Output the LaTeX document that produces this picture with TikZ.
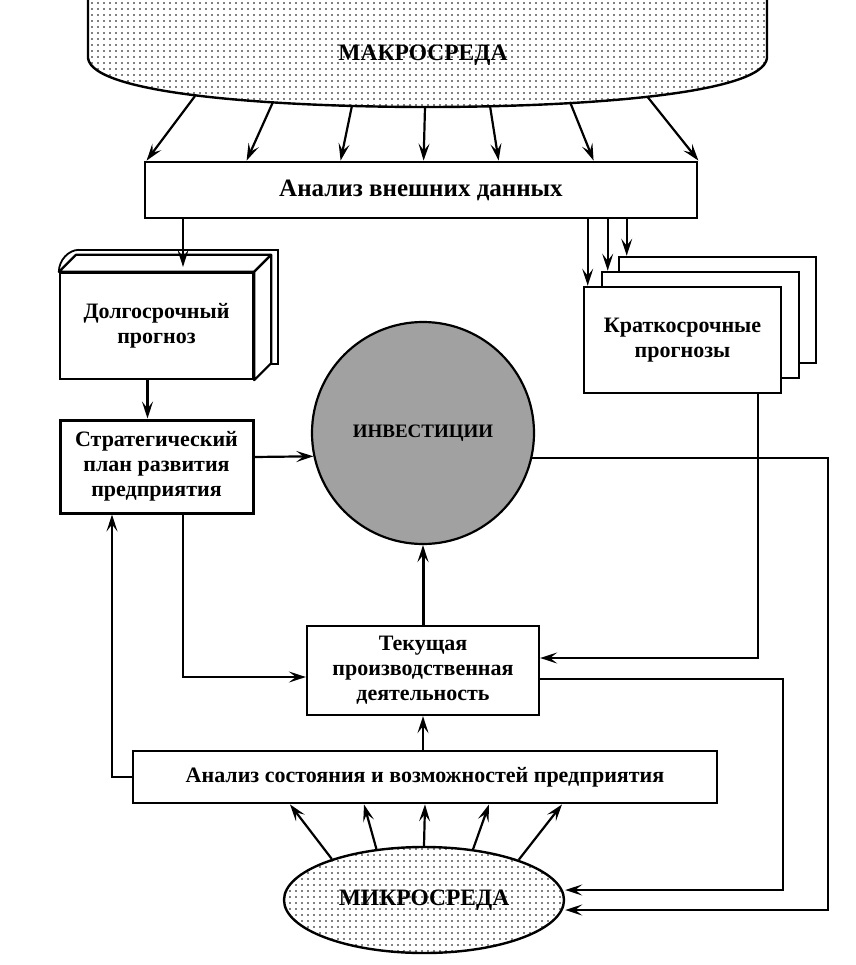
\documentclass[tikz,border=0pt]{standalone}
\usepackage{fontspec}
\setmainfont{Liberation Serif}
\usetikzlibrary{arrows.meta,patterns,shapes.geometric,calc}
\pgfdeclarepatternformonly{bigdots}{\pgfpoint{-1pt}{-1pt}}{\pgfpoint{6pt}{6pt}}{\pgfpoint{6pt}{6pt}}{\pgfpathcircle{\pgfpoint{2pt}{2pt}}{0.9pt}\pgfusepath{fill}}
\tikzset{
  box/.style={draw, line width=2.3pt, fill=white, align=center, inner sep=0pt,
    font=\bfseries\fontsize{22}{25}\selectfont},
  arr/.style={line width=2.2pt, -{Stealth[length=17pt,width=11pt,inset=7pt]}},
  ln/.style={line width=2.2pt},
  bigtxt/.style={font=\bfseries\fontsize{23.5}{27}\selectfont},
}
\begin{document}
\begin{tikzpicture}[x=1pt,y=-1pt]
\useasboundingbox (0,0) rectangle (855,965);
% ---- macro environment
\fill[pattern=bigdots] (88,-5) -- (88,58) .. controls (92,95) and (280,107) .. (427.5,107)
  .. controls (575,107) and (763,95) .. (767,58) -- (767,-5) -- cycle;
\draw[line width=2.4pt] (88,-5) -- (88,58) .. controls (92,95) and (280,107) .. (427.5,107)
  .. controls (575,107) and (763,95) .. (767,58) -- (767,-5);
\node[bigtxt] (macro) at (423,55) {МАКРОСРЕДА};
\coordinate (m1) at (195,96);
\coordinate (m2) at (273,102);
\coordinate (m3) at (352,105.5);
\coordinate (m4) at (425,107);
\coordinate (m5) at (490,106);
\coordinate (m6) at (570,102);
\coordinate (m7) at (648,97.5);
% ---- external analysis
\node[box, line width=2.8pt, minimum width=552, minimum height=56,
  font=\bfseries\fontsize{25}{29}\selectfont] (ext) at (421,190) {Анализ внешних данных};
\draw[arr] (m1) -- ([xshift=3]ext.north west);
\draw[arr] (m2) -- ([xshift=103]ext.north west);
\draw[arr] (m3) -- ([xshift=197]ext.north west);
\draw[arr] (m4) -- ([xshift=280]ext.north west);
\draw[arr] (m5) -- ([xshift=355]ext.north west);
\draw[arr] (m6) -- ([xshift=450]ext.north west);
\draw[arr] (m7) -- (ext.north east);
% ---- long-term forecast (book)
\node[box, minimum width=193, minimum height=106] (dolg) at (156.5,326) {Долгосрочный\\прогноз};
\draw[line width=2.2pt, fill=white, line join=round] (dolg.north west) -- ++(17,-17) -- ([shift={(17,-17)}]dolg.north east) -- (dolg.north east) -- cycle;
\draw[line width=2.2pt, fill=white, line join=round] (dolg.north east) -- ++(17,-17) -- ([shift={(17,-17)}]dolg.south east) -- (dolg.south east) -- cycle;
\draw[line width=2.2pt] ([shift={(20,-22)}]dolg.north west) -- ([shift={(24,-22)}]dolg.north east)
  -- ([shift={(24,-16)}]dolg.south east) -- ([shift={(17,-16)}]dolg.south east);
\draw[line width=1.8pt] (dolg.north west) .. controls +(0,-12) and +(-10,0) .. ([shift={(20,-22)}]dolg.north west);
\draw[arr] ([xshift=26.5]dolg.north |- ext.south) -- ([xshift=26.5,yshift=5]dolg.north);
% ---- strategic plan
\node[box, line width=3pt, minimum width=193, minimum height=93] (strat) at (156.5,466.5) {Стратегический\\план развития\\предприятия};
\draw[arr] ([xshift=-9]dolg.south) -- ([xshift=-9]strat.north);
% ---- investments
\node[circle, draw, line width=2.2pt, fill=black!37, minimum size=222,
  font=\bfseries\fontsize{19}{23}\selectfont] (inv) at (423,433) {ИНВЕСТИЦИИ};
\draw[arr] ([yshift=9.5]strat.east) -- (inv.192.5);
% ---- short-term forecasts
\node[box, line width=2.6pt, minimum width=197, minimum height=106] (kratC) at (717.5,310) {};
\node[box, line width=2.6pt, minimum width=197, minimum height=106] (kratB) at (700.5,325) {};
\node[box, line width=2.6pt, minimum width=197, minimum height=106] (krat) at (682.5,340) {Краткосрочные\\прогнозы};
\draw[arr] ([xshift=5]krat.north west |- ext.south) -- ([xshift=5]krat.north west);
\draw[arr] ([xshift=7]kratB.north west |- ext.south) -- ([xshift=7]kratB.north west);
\draw[arr] ([xshift=9]kratC.north west |- ext.south) -- ([xshift=9]kratC.north west);
% ---- current production
\node[box, minimum width=232, minimum height=89] (tek) at (423,670.5) {Текущая\\производственная\\деятельность};
\draw[arr, line width=3pt] (tek.north) -- (inv.south);
\draw[arr] ([xshift=75.5]krat.south) |- ([yshift=12.5]tek.east);
\draw[arr] ([xshift=26.5]strat.south) |- ([yshift=-6.5]tek.west);
% ---- internal analysis
\node[box, line width=2.8pt, minimum width=584, minimum height=52] (state) at (425,777) {Анализ состояния и возможностей предприятия};
\draw[arr] (tek.south |- state.north) -- (tek.south);
\draw[arr, line width=1.8pt] (state.west) -| ([xshift=-44.5]strat.south);
% ---- micro environment
\node[ellipse, draw, line width=2.4pt, pattern=bigdots, minimum width=280, minimum height=106, bigtxt] (micro) at (424,900) {МИКРОСРЕДА};
\draw[arr] (micro.156.5) -- ([xshift=-135]state.south);
\draw[arr] (micro.133.8) -- ([xshift=-61]state.south);
\draw[arr] (micro.90) -- (state.south);
\draw[arr] (micro.46.2) -- ([xshift=64]state.south);
\draw[arr] (micro.23.5) -- ([xshift=137]state.south);
\coordinate (rr) at (828,457);
\coordinate (r2) at (783,679);
\draw[arr, line width=2.5pt] (inv.347.5) -- (inv.347.5 -| rr) |- ([yshift=-10]micro.east);
\draw[arr, line width=1.8pt] ([yshift=-8.5]tek.east) -- ([yshift=-8.5]tek.east -| r2) |- ([yshift=10]micro.east);
\end{tikzpicture}
\end{document}
